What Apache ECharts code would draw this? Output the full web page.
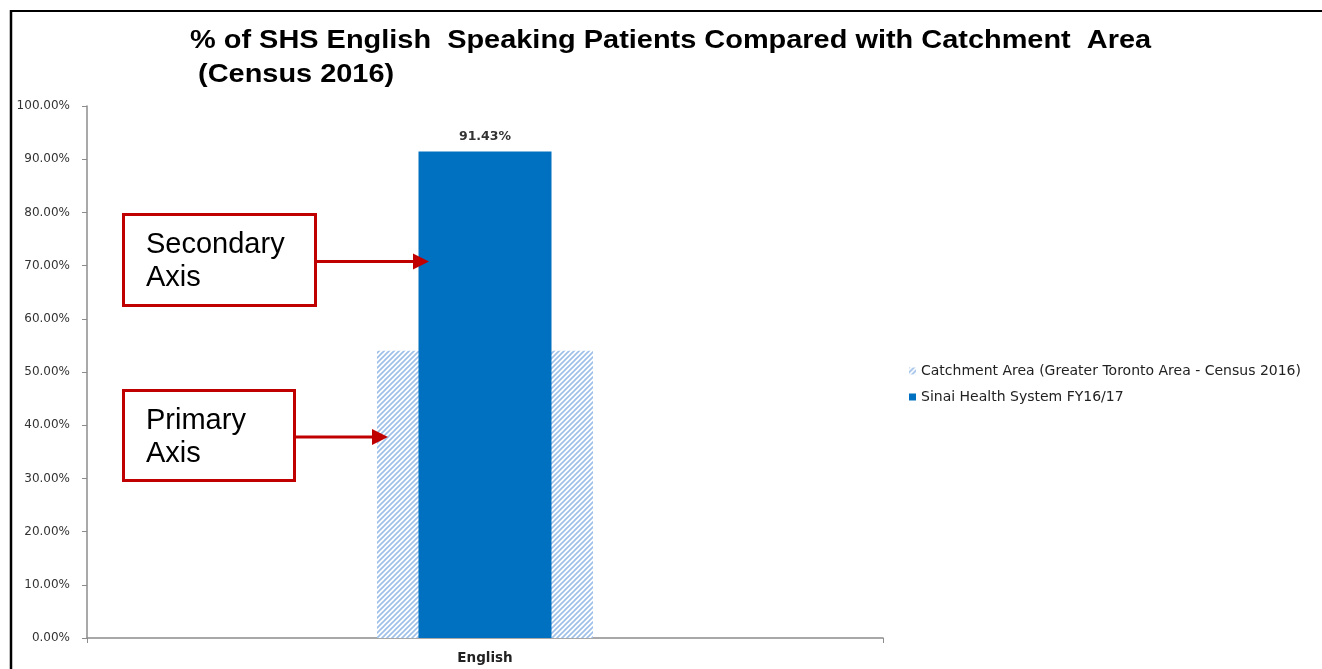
<!DOCTYPE html>
<html>
<head>
<meta charset="utf-8">
<script src="https://cdn.jsdelivr.net/npm/echarts@6/dist/echarts.min.js"></script>
<style>
html,body{margin:0;padding:0;background:#fff;}
#chart{width:1322px;height:669px;}
</style>
</head>
<body>
<div id="chart"></div>
<script>
var categories = ['English'];
var catchmentValues = [54.0];
var sinaiValues = [91.43];
var seriesNames = ['Catchment Area (Greater Toronto Area - Census 2016)', 'Sinai Health System FY16/17'];
var yTicks = [0, 10, 20, 30, 40, 50, 60, 70, 80, 90, 100];
var titleText = '% of SHS English  Speaking Patients Compared with Catchment  Area\n (Census 2016)';

function makeHatch() {
  var s = 5;
  var c = document.createElement('canvas');
  c.width = s; c.height = s;
  var ctx = c.getContext('2d');
  ctx.fillStyle = '#ffffff';
  ctx.fillRect(0, 0, s, s);
  ctx.strokeStyle = '#9dbfe8';
  ctx.lineWidth = 1.6;
  ctx.beginPath();
  ctx.moveTo(-1, s + 1); ctx.lineTo(s + 1, -1);
  ctx.moveTo(-1, 1); ctx.lineTo(1, -1);
  ctx.moveTo(s - 1, s + 1); ctx.lineTo(s + 1, s - 1);
  ctx.stroke();
  return c;
}
var hatch = { image: makeHatch(), repeat: 'repeat' };

var chart = echarts.init(document.getElementById('chart'), null, { renderer: 'canvas' });

function yAxisCfg(show) {
  return {
    type: 'value', min: yTicks[0], max: yTicks[yTicks.length - 1], interval: 10, show: show,
    axisLine: { show: true, lineStyle: { color: '#8c8c8c', width: 1.5 } },
    axisTick: { show: true, inside: false, length: 5, lineStyle: { color: '#8c8c8c' } },
    splitLine: { show: false },
    axisLabel: {
      margin: 17, color: '#333', fontFamily: 'DejaVu Sans', fontSize: 12,
      formatter: function (v) { return v.toFixed(2) + '%'; }
    }
  };
}

var option = {
  backgroundColor: '#fff',
  animation: false,
  legend: {
    orient: 'vertical', left: 909, top: 364, padding: 0,
    itemWidth: 7, itemHeight: 7, itemGap: 12, icon: 'rect',
    textStyle: { fontFamily: 'DejaVu Sans', fontSize: 14, color: '#222' },
    data: seriesNames
  },
  grid: { left: 87, right: 439, top: 106, bottom: 31 },
  xAxis: [
    {
      type: 'category', data: categories,
      axisLine: { lineStyle: { color: '#8c8c8c', width: 1.5 } },
      axisTick: { show: true, length: 5, lineStyle: { color: '#8c8c8c' } },
      axisLabel: { margin: 13, color: '#222', fontWeight: 'bold', fontSize: 13.5, fontFamily: 'DejaVu Sans' }
    },
    { type: 'category', data: categories, show: false }
  ],
  yAxis: [yAxisCfg(true), yAxisCfg(false)],
  series: [
    {
      name: seriesNames[0], type: 'bar', xAxisIndex: 0, yAxisIndex: 0,
      data: catchmentValues, barWidth: 216, z: 2,
      itemStyle: { color: hatch }
    },
    {
      name: seriesNames[1], type: 'bar', xAxisIndex: 1, yAxisIndex: 1,
      data: sinaiValues, barWidth: 133, z: 3,
      itemStyle: { color: '#0070c0' },
      label: {
        show: true, position: 'top', distance: 8,
        fontFamily: 'DejaVu Sans', fontWeight: 'bold', fontSize: 12.5, color: '#333',
        formatter: function (p) { return p.value.toFixed(2) + '%'; }
      }
    }
  ],
  graphic: [
    { type: 'line', shape: { x1: 10, y1: 11, x2: 1322, y2: 11 }, style: { stroke: '#000', lineWidth: 2 } },
    { type: 'line', shape: { x1: 11, y1: 10, x2: 11, y2: 669 }, style: { stroke: '#000', lineWidth: 2.5 } },
    // Title (stretched horizontally like the reference)
    { type: 'text', x: 190, y: 23, scaleX: 1.157, scaleY: 1.05,
      style: { text: titleText, fill: '#000', font: 'bold 25px "Liberation Sans", Arial', lineHeight: 33 }, z: 50 },
    // Secondary axis annotation
    { type: 'rect', shape: { x: 123.5, y: 214.5, width: 192, height: 91 }, style: { fill: '#fff', stroke: '#c00000', lineWidth: 3 }, z: 100 },
    { type: 'text', left: 146, top: 228, style: { text: 'Secondary\nAxis', fill: '#000', font: '29px "Liberation Sans", Arial', lineHeight: 33 }, z: 101 },
    { type: 'line', shape: { x1: 317, y1: 261.5, x2: 415, y2: 261.5 }, style: { stroke: '#c00000', lineWidth: 3 }, z: 100 },
    { type: 'polygon', shape: { points: [[413, 253.5], [429, 261.5], [413, 269.5]] }, style: { fill: '#c00000' }, z: 100 },
    // Primary axis annotation
    { type: 'rect', shape: { x: 123.5, y: 390.5, width: 171, height: 90 }, style: { fill: '#fff', stroke: '#c00000', lineWidth: 3 }, z: 100 },
    { type: 'text', left: 146, top: 404, style: { text: 'Primary\nAxis', fill: '#000', font: '29px "Liberation Sans", Arial', lineHeight: 33 }, z: 101 },
    { type: 'line', shape: { x1: 295, y1: 437, x2: 374, y2: 437 }, style: { stroke: '#c00000', lineWidth: 3 }, z: 100 },
    { type: 'polygon', shape: { points: [[372, 429], [388, 437], [372, 445]] }, style: { fill: '#c00000' }, z: 100 }
  ]
};
chart.setOption(option);
</script>
</body>
</html>
